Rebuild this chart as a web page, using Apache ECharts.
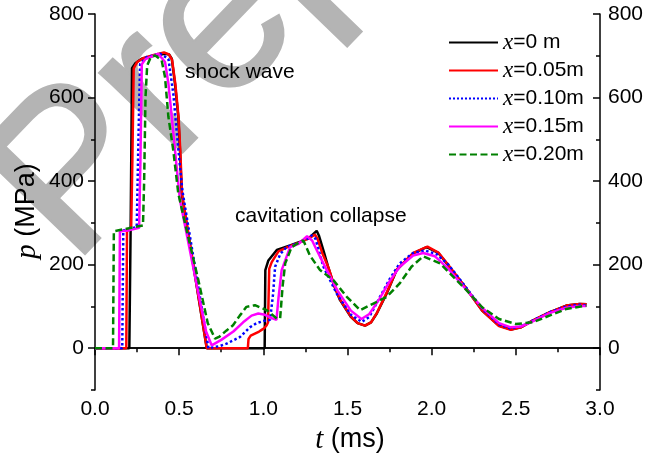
<!DOCTYPE html>
<html><head><meta charset="utf-8">
<script src="https://cdn.jsdelivr.net/npm/echarts@6/dist/echarts.min.js"></script>
<style>html,body{margin:0;padding:0;background:#fff}#c{width:646px;height:459px}</style>
</head><body><div id="c"></div>
<script>
// ---- data ----
var seriesNames = ['x=0 m', 'x=0.05m', 'x=0.10m', 'x=0.15m', 'x=0.20m'];
var t0 = [0, 0.204, 0.212, 0.22, 0.24, 0.277, 0.35, 0.416, 0.44, 0.456, 0.475, 0.495, 0.505, 0.515, 0.664, 1.008, 1.012, 1.03, 1.08, 1.159, 1.22, 1.277, 1.317, 1.33, 1.36, 1.385, 1.42, 1.456, 1.52, 1.56, 1.604, 1.64, 1.674, 1.733, 1.792, 1.891, 1.97, 2.04, 2.09, 2.2, 2.3, 2.4, 2.47, 2.53, 2.6, 2.7, 2.8, 2.88, 2.92];
var p0 = [0, 0, 300, 670, 682, 693, 700, 705, 703, 693, 634, 554, 474, 370, 0, 0, 187, 210, 235, 246, 255, 266, 281, 270, 230, 195, 150, 115, 75, 60, 54, 62, 83, 131, 187, 227, 242, 228, 203, 146, 90, 54, 45, 50, 66, 86, 102, 106, 105];
var t1 = [0, 0.186, 0.19, 0.215, 0.222, 0.23, 0.25, 0.29, 0.35, 0.41, 0.44, 0.458, 0.478, 0.497, 0.507, 0.517, 0.664, 0.908, 0.912, 0.925, 0.935, 0.95, 0.96, 0.975, 0.99, 1.005, 1.02, 1.028, 1.035, 1.05, 1.09, 1.16, 1.22, 1.27, 1.307, 1.322, 1.35, 1.385, 1.42, 1.456, 1.52, 1.56, 1.604, 1.64, 1.674, 1.733, 1.792, 1.891, 1.975, 2.04, 2.09, 2.2, 2.3, 2.4, 2.47, 2.53, 2.6, 2.7, 2.8, 2.88, 2.92];
var p1 = [0, 0, 280, 290, 450, 670, 685, 695, 702, 708, 703, 690, 630, 550, 470, 370, 0, 0, 22, 30, 26, 35, 32, 40, 44, 48, 55, 62, 190, 206, 232, 245, 254, 263, 272, 262, 228, 195, 152, 117, 76, 60, 54, 62, 84, 133, 188, 228, 243, 229, 204, 146, 90, 53, 44, 50, 66, 86, 102, 106, 105];
var t2 = [0, 0.162, 0.168, 0.2, 0.248, 0.258, 0.268, 0.307, 0.386, 0.436, 0.465, 0.485, 0.505, 0.52, 0.674, 0.70, 0.74, 0.782, 0.862, 0.92, 0.96, 1.0, 1.04, 1.058, 1.07, 1.1, 1.14, 1.2, 1.25, 1.287, 1.31, 1.357, 1.436, 1.52, 1.585, 1.63, 1.693, 1.75, 1.81, 1.89, 1.96, 2.03, 2.1, 2.2, 2.3, 2.4, 2.47, 2.53, 2.6, 2.7, 2.8, 2.88, 2.92];
var p2 = [0, 0, 282, 285, 290, 500, 680, 697, 705, 693, 610, 520, 434, 375, 0, 2, 5, 11, 27, 50, 60, 65, 68, 130, 195, 225, 243, 250, 258, 270, 262, 195, 131, 80, 63, 75, 123, 165, 203, 228, 234, 225, 200, 148, 95, 57, 47, 52, 66, 86, 100, 104, 103];
var t3 = [0, 0.143, 0.148, 0.2, 0.262, 0.27, 0.278, 0.3, 0.376, 0.416, 0.436, 0.456, 0.485, 0.505, 0.6, 0.66, 0.693, 0.75, 0.822, 0.88, 0.93, 0.97, 1.01, 1.05, 1.078, 1.09, 1.109, 1.159, 1.21, 1.26, 1.29, 1.317, 1.368, 1.441, 1.52, 1.583, 1.63, 1.69, 1.75, 1.81, 1.89, 1.95, 2.02, 2.1, 2.2, 2.3, 2.4, 2.47, 2.53, 2.6, 2.7, 2.8, 2.88, 2.92];
var p3 = [0, 0, 280, 282, 288, 450, 680, 692, 705, 685, 634, 554, 434, 354, 160, 40, 7, 20, 40, 62, 78, 83, 80, 72, 68, 120, 187, 242, 250, 268, 258, 235, 194, 138, 90, 70, 82, 118, 160, 195, 222, 228, 220, 190, 143, 97, 60, 50, 52, 64, 84, 97, 101, 101];
var t4 = [0, 0.107, 0.112, 0.2, 0.285, 0.292, 0.3, 0.31, 0.33, 0.356, 0.396, 0.416, 0.436, 0.465, 0.495, 0.54, 0.614, 0.67, 0.713, 0.74, 0.78, 0.82, 0.86, 0.9, 0.95, 1.02, 1.08, 1.1, 1.115, 1.13, 1.168, 1.2, 1.238, 1.277, 1.337, 1.416, 1.496, 1.575, 1.654, 1.733, 1.81, 1.88, 1.95, 2.05, 2.2, 2.3, 2.4, 2.5, 2.6, 2.7, 2.8, 2.92];
var p4 = [0, 0, 280, 287, 294, 400, 600, 677, 695, 701, 689, 649, 554, 474, 370, 290, 163, 60, 23, 28, 42, 55, 78, 99, 103, 91, 71, 72, 150, 203, 242, 250, 258, 222, 187, 163, 123, 91, 107, 123, 155, 195, 220, 203, 142, 98, 70, 58, 62, 78, 94, 102];
var yLabelValues = [0, 200, 400, 600, 800];
var yMinorValues = [-100, 100, 300, 500, 700];
// ---- styling ----
var colors = ['#000000', '#ff0000', '#0000ff', '#ff00ff', '#008000'];
var dashes = ['solid', 'solid', 'dotted', 'solid', [7, 3.5]];
var times = [t0, t1, t2, t3, t4];
var vals = [p0, p1, p2, p3, p4];
var SANS = 'Liberation Sans, Arial, sans-serif';
var SERIF = 'Liberation Serif, Times New Roman, serif';

function zip(t, p) { return t.map(function (v, i) { return [v, p[i]]; }); }

var axisLineStyle = { color: '#000', width: 1.5 };
var series = seriesNames.map(function (n, i) {
  return {
    name: n, type: 'line', xAxisIndex: 0, yAxisIndex: 0,
    data: zip(times[i], vals[i]), symbol: 'none', showSymbol: false,
    lineStyle: { color: colors[i], width: 2.5, type: dashes[i] },
    itemStyle: { color: colors[i] }, z: 2 + i, clip: true
  };
});

var chart = echarts.init(document.getElementById('c'), null, { renderer: 'canvas' });
chart.setOption({
  animation: false,
  backgroundColor: '#fff',
  grid: { left: 95, right: 46, top: 14, bottom: 69 },
  xAxis: [
    { type: 'value', position: 'bottom', min: 0, max: 3, interval: 0.5,
      axisLine: { show: true, lineStyle: axisLineStyle },
      axisTick: { show: true, length: 7, inside: false, lineStyle: axisLineStyle },
      minorTick: { show: true, splitNumber: 2, length: 4, lineStyle: axisLineStyle },
      axisLabel: { show: true, margin: 9, fontSize: 21, color: '#000', fontFamily: SANS,
        formatter: function (v) { return v.toFixed(1); } },
      splitLine: { show: false } },
    { type: 'value', position: 'top', min: 0, max: 3, interval: 0.5,
      axisLine: { show: true, lineStyle: axisLineStyle },
      axisTick: { show: true, length: 7, inside: true, lineStyle: axisLineStyle },
      minorTick: { show: true, splitNumber: 2, length: 4, lineStyle: axisLineStyle },
      axisLabel: { show: false }, splitLine: { show: false } }
  ],
  yAxis: [
    { type: 'value', position: 'left', min: -100, max: 800,
      axisLine: { show: true, lineStyle: axisLineStyle },
      axisTick: { show: true, length: 7, inside: false, customValues: yLabelValues, lineStyle: axisLineStyle },
      axisLabel: { show: true, customValues: yLabelValues, margin: 11, fontSize: 21, color: '#000', fontFamily: SANS },
      splitLine: { show: false } },
    { type: 'value', position: 'left', min: -100, max: 800,
      axisLine: { show: false },
      axisTick: { show: true, length: 4, inside: false, customValues: yMinorValues, lineStyle: axisLineStyle },
      axisLabel: { show: false }, splitLine: { show: false } },
    { type: 'value', position: 'right', min: -100, max: 800,
      axisLine: { show: true, lineStyle: axisLineStyle },
      axisTick: { show: true, length: 7, inside: true, customValues: yLabelValues, lineStyle: axisLineStyle },
      axisLabel: { show: true, customValues: yLabelValues, margin: 8, fontSize: 21, color: '#000', fontFamily: SANS },
      splitLine: { show: false } },
    { type: 'value', position: 'right', min: -100, max: 800,
      axisLine: { show: false },
      axisTick: { show: true, length: 4, inside: true, customValues: yMinorValues, lineStyle: axisLineStyle },
      axisLabel: { show: false }, splitLine: { show: false } }
  ],
  legend: {
    orient: 'vertical', left: 448, top: 31, itemWidth: 49, itemHeight: 14, itemGap: 5,
    padding: 0,
    data: seriesNames,
    itemStyle: { opacity: 0 },
    formatter: function (name) { return '{i|x}{n|' + name.slice(1) + '}'; },
    textStyle: { fontSize: 21, lineHeight: 21, color: '#000', fontFamily: SANS,
      rich: { i: { fontFamily: SERIF, fontStyle: 'italic', fontSize: 23, color: '#000', lineHeight: 21 },
              n: { fontFamily: SANS, fontSize: 21, color: '#000', lineHeight: 21 } } }
  },
  graphic: [
    { type: 'text', z: 0, zlevel: 0, x: 30, y: 224, rotation: 46 * Math.PI / 180, silent: true,
      style: { text: 'Preprint', font: '215px Liberation Sans', fill: '#b4b4b4',
        stroke: '#b4b4b4', lineWidth: 4, align: 'left', verticalAlign: 'middle' } },
    { type: 'text', z: 50, x: 185, y: 72,
      style: { text: 'shock wave', font: '21px Liberation Sans', fill: '#000', align: 'left', verticalAlign: 'middle' } },
    { type: 'text', z: 50, x: 235, y: 216,
      style: { text: 'cavitation collapse', font: '21px Liberation Sans', fill: '#000', align: 'left', verticalAlign: 'middle' } },
    { type: 'text', z: 50, x: 350, y: 440,
      style: { text: '{i|t}{n| (ms)}', align: 'center', verticalAlign: 'middle', fill: '#000',
        rich: { i: { fontFamily: SERIF, fontStyle: 'italic', fontSize: 29, fill: '#000' },
                n: { fontFamily: SANS, fontSize: 27, fill: '#000' } } } },
    { type: 'text', z: 50, x: 27, y: 211, rotation: Math.PI / 2,
      style: { text: '{i|p}{n| (MPa)}', align: 'center', verticalAlign: 'middle', fill: '#000',
        rich: { i: { fontFamily: SERIF, fontStyle: 'italic', fontSize: 29, fill: '#000' },
                n: { fontFamily: SANS, fontSize: 27, fill: '#000' } } } }
  ],
  series: series
});
</script></body></html>
